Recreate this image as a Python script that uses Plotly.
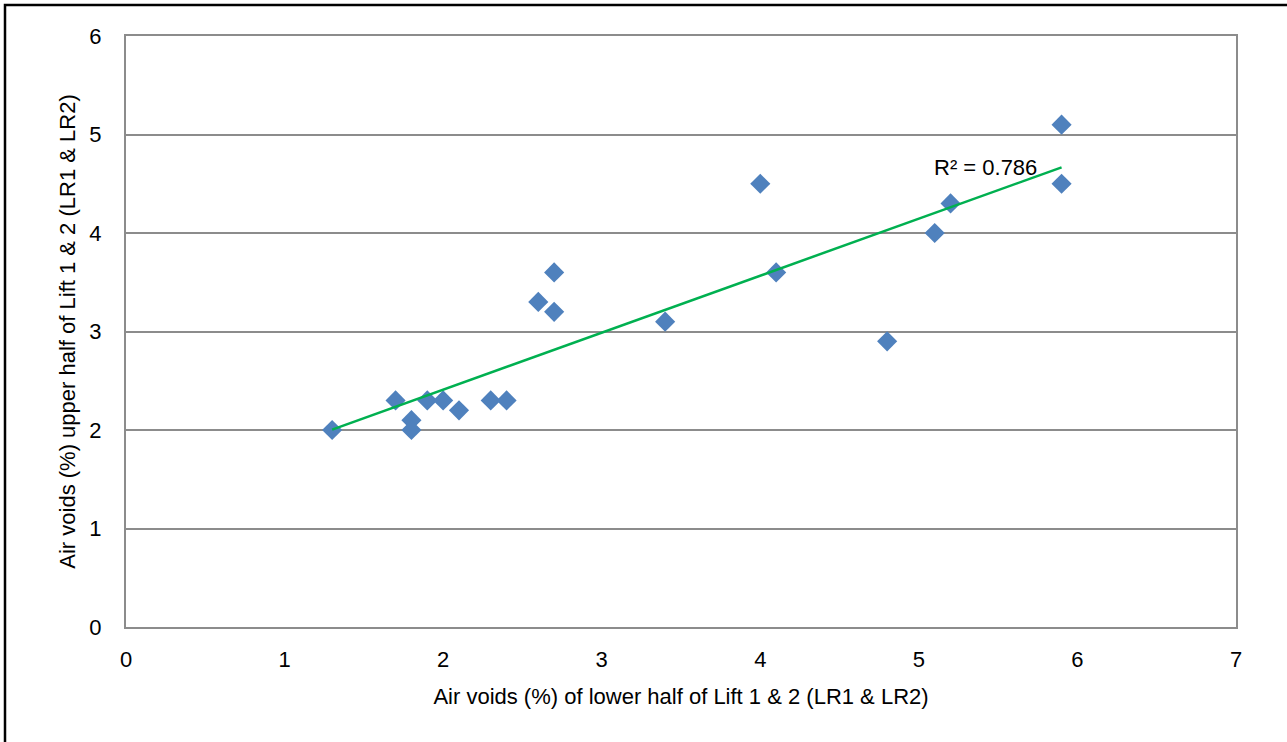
import numpy as np
import plotly.graph_objects as go

x_lower = [1.3, 1.7, 1.8, 1.8, 1.9, 2.0, 2.1, 2.3, 2.4, 2.6, 2.7, 2.7, 3.4, 4.0, 4.1, 4.8, 5.1, 5.2, 5.9, 5.9]
y_upper = [2.0, 2.3, 2.1, 2.0, 2.3, 2.3, 2.2, 2.3, 2.3, 3.3, 3.6, 3.2, 3.1, 4.5, 3.6, 2.9, 4.0, 4.3, 5.1, 4.5]
x_ticks = [0, 1, 2, 3, 4, 5, 6, 7]
y_ticks = [0, 1, 2, 3, 4, 5, 6]
r2_label = "R² = 0.786"

xa = np.array(x_lower)
ya = np.array(y_upper)
slope, intercept = np.polyfit(xa, ya, 1)
tx = np.array([xa.min(), xa.max()])
ty = slope * tx + intercept

FONT = "Liberation Sans, Arial, sans-serif"
FS = 22

fig = go.Figure()
fig.add_trace(go.Scatter(
    x=x_lower, y=y_upper, mode="markers",
    marker=dict(symbol="diamond", size=15.5, color="#4F81BD", line=dict(width=0)),
    showlegend=False, hoverinfo="x+y",
))
fig.add_trace(go.Scatter(
    x=tx, y=ty, mode="lines",
    line=dict(color="#00B050", width=2.5),
    showlegend=False, hoverinfo="skip",
))

fig.add_annotation(
    x=5.1, y=4.66, xref="x", yref="y", text=r2_label, showarrow=False,
    xanchor="left", yanchor="middle", xshift=-3,
    font=dict(family=FONT, size=FS, color="#000000"),
)

# outer black frame
fig.add_shape(type="rect", xref="paper", yref="paper",
              x0=-121 / 1110, x1=1.1,
              y0=-0.3, y1=1 + 31 / 591,
              line=dict(color="#000000", width=2.5), fillcolor="rgba(0,0,0,0)", layer="above")

fig.update_layout(
    width=1287, height=742,
    margin=dict(l=126, r=51, t=36, b=115),
    paper_bgcolor="white", plot_bgcolor="white",
    font=dict(family=FONT, size=FS, color="#000000"),
    xaxis=dict(
        range=[0, 7], tickmode="array", tickvals=x_ticks,
        showgrid=False, zeroline=False,
        showline=True, linecolor="#8C8C8C", linewidth=2, mirror=True,
        ticks="", ticklen=0, ticklabelstandoff=12,
        tickfont=dict(family=FONT, size=FS),
        title=dict(text="Air voids (%) of lower half of Lift 1 & 2 (LR1 & LR2)",
                   font=dict(family=FONT, size=FS), standoff=17),
    ),
    yaxis=dict(
        range=[0, 6], tickmode="array", tickvals=y_ticks,
        showgrid=True, gridcolor="#8C8C8C", gridwidth=2, zeroline=False,
        showline=True, linecolor="#8C8C8C", linewidth=2, mirror=True,
        ticks="", ticklen=0, ticklabelstandoff=18,
        tickfont=dict(family=FONT, size=FS),
        title=dict(text="Air voids (%) upper half of Lift 1 & 2 (LR1 & LR2)",
                   font=dict(family=FONT, size=FS), standoff=8),
    ),
)

fig.write_html("out.html")
